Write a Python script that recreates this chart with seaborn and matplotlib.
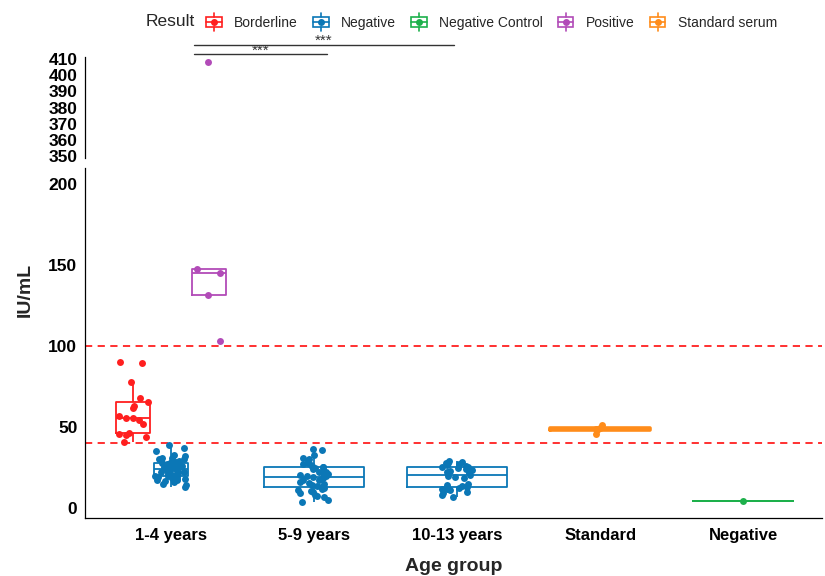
import numpy as np
import pandas as pd
import matplotlib
matplotlib.use("Agg")
import matplotlib.pyplot as plt
import seaborn as sns
from matplotlib.legend_handler import HandlerBase
from matplotlib.patches import Rectangle
from matplotlib.lines import Line2D

sns.set_theme(style="white")
plt.rcParams["font.family"] = ["Liberation Sans", "DejaVu Sans"]

# ---- data -------------------------------------------------------------
age_groups = ["1-4 years", "5-9 years", "10-13 years", "Standard", "Negative"]
result_levels = ["Borderline", "Negative", "Negative Control", "Positive", "Standard serum"]

borderline_1_4 = [90, 89.5, 78, 68, 65.6, 63, 62, 56.7, 55.7, 55.5, 54, 52,
                  46, 45.5, 45, 44, 41]
negative_1_4 = [39, 37, 35, 33, 32, 31, 31, 30, 30, 29, 29, 28.5, 28, 28, 27.5,
                27, 27, 26.5, 26, 26, 25.5, 25, 25, 24.5, 24, 24, 23.5, 23, 23,
                22.5, 22, 22, 21.5, 21, 21, 20.5, 20, 20, 19.5, 19, 19, 18.5, 18,
                18, 17.5, 17, 16.5, 16, 15, 14, 13]
positive_1_4 = [103, 131.5, 145, 147.5, 408]
negative_5_9 = [36.5, 36, 33, 31, 30, 29, 28, 27, 26.5, 26, 25.5, 25, 24.5, 24,
                23, 22.5, 22, 21.5, 21, 20.5, 20, 19.5, 19, 18.5, 18, 17.5, 17,
                16, 15.5, 15, 14, 13.5, 13, 12.5, 12, 11, 10.5, 10, 9, 8, 7.5,
                6.5, 5, 3.5]
negative_10_13 = [29, 28.5, 28, 27.5, 27, 26.5, 26, 25.5, 25, 24.5, 24, 23.5,
                  23, 22, 21.5, 20.5, 20, 19, 18.5, 15, 14, 13.5, 13, 12.5, 12,
                  11.5, 11, 10, 9, 8, 7]
standard_serum = [45.5, 48, 48.7, 49.3, 51.5]
negative_control = [4]

cutoff_positive = 100
cutoff_negative = 40

groups = [
    ("1-4 years", "Borderline", borderline_1_4),
    ("1-4 years", "Negative", negative_1_4),
    ("1-4 years", "Positive", positive_1_4),
    ("5-9 years", "Negative", negative_5_9),
    ("10-13 years", "Negative", negative_10_13),
    ("Standard", "Standard serum", standard_serum),
    ("Negative", "Negative Control", negative_control),
]

# ---- styling ----------------------------------------------------------
palette = {
    "Borderline": "#FF1F1F",
    "Negative": "#0B77B6",
    "Negative Control": "#1DB04B",
    "Positive": "#B24BB8",
    "Standard serum": "#FF8C1A",
}
# dodge offset and box width (in category units) for each group
layout = {
    ("1-4 years", "Borderline"): (-0.265, 0.24),
    ("1-4 years", "Negative"): (0.0, 0.24),
    ("1-4 years", "Positive"): (0.265, 0.24),
}
whis_for = {"Borderline": 1.0}
box_lw = {"Standard serum": 2.6}

rows = []
for age, res, vals in groups:
    off, w = layout.get((age, res), (0.0, 0.70))
    for v in vals:
        rows.append({"age": age, "result": res, "iu": v,
                     "xpos": age_groups.index(age) + off, "width": w})
df = pd.DataFrame(rows)

W, H = 825, 576
fig = plt.figure(figsize=(W / 100, H / 100), dpi=100)
ax = fig.add_axes([85 / W, (H - 518) / H, (822 - 85) / W, (518 - 168) / H])
ax_top = fig.add_axes([85 / W, (H - 158) / H, (822 - 85) / W, (158 - 57) / H], sharex=ax)

np.random.seed(7)
for a in (ax, ax_top):
    for (age, res), sub in df.groupby(["age", "result"], sort=False):
        c = palette[res]
        sns.boxplot(data=sub, x="xpos", y="iu", native_scale=True,
                    width=sub["width"].iloc[0], fill=False, color=c,
                    linewidth=box_lw.get(res, 1.3), showfliers=False,
                    whis=whis_for.get(res, 1.5), ax=a,
                    capprops={"visible": False})
        sns.stripplot(data=sub, x="xpos", y="iu", native_scale=True,
                      jitter=0.03 if res == "Standard serum" else 0.11,
                      color=c, size=5, linewidth=0, ax=a)

for y in (cutoff_positive, cutoff_negative):
    ax.axhline(y, color="#FF2020", lw=1.3, ls=(0, (4, 3)), zorder=0.5)

# axes limits / ticks
ax.set_xlim(-0.6, 4.55)
ax.set_ylim(-6.2, 209.9)
ax.set_yticks([0, 50, 100, 150, 200])
ax.set_xticks(range(len(age_groups)))
ax.set_xticklabels(age_groups)
ax_top.set_ylim(348.76, 411.24)
ax_top.set_yticks(list(range(350, 411, 10)))

for a in (ax, ax_top):
    for s in ("top", "right"):
        a.spines[s].set_visible(False)
    a.spines["left"].set_color("black")
    a.spines["left"].set_linewidth(0.9)
    a.tick_params(axis="both", direction="out", length=3.5, width=0.8,
                  color="#333333", labelsize=12.5, labelcolor="black", pad=2)
    for lab in a.get_yticklabels() + a.get_xticklabels():
        lab.set_fontweight("bold")
    a.set_xlabel("")
    a.set_ylabel("")
    a.grid(False)

ax.spines["bottom"].set_color("black")
ax.spines["bottom"].set_linewidth(0.9)
ax.tick_params(axis="x", labelsize=12, pad=3.5)
for lab in ax.get_xticklabels():
    lab.set_fontweight("bold")
ax_top.spines["bottom"].set_visible(False)
ax_top.tick_params(axis="x", bottom=False, labelbottom=False)

ax.set_xlabel("Age group", fontsize=14, fontweight="bold", labelpad=11)
fig.text(25 / W, 1 - 290 / H, "IU/mL", rotation=90, ha="center", va="center",
         fontsize=14, fontweight="bold")

# significance brackets
brackets = [((0.16, 1.09), 412.9), ((0.16, 1.98), 418.8)]
for (x0, x1), yb in brackets:
    ax_top.plot([x0, x1], [yb, yb], color="#333333", lw=1.0, clip_on=False)
    ax_top.annotate("***", xy=((x0 + x1) / 2, yb), xytext=(0, 0),
                    textcoords="offset points", ha="center", va="baseline",
                    fontsize=11, color="#333333", annotation_clip=False)


# legend with boxplot-shaped keys
class BoxKeyHandler(HandlerBase):
    def create_artists(self, legend, orig_handle, xdescent, ydescent,
                       width, height, fontsize, trans):
        c = orig_handle.get_color()
        x0, y0 = -xdescent, -ydescent
        bw = width * 0.85
        bx = x0 + (width - bw) / 2
        cx = x0 + width / 2
        box = Rectangle((bx, y0 + height * 0.22), bw, height * 0.56,
                        fill=False, edgecolor=c, lw=1.2, transform=trans)
        med = Line2D([bx, bx + bw], [y0 + height / 2] * 2, color=c, lw=1.2,
                     transform=trans)
        w1 = Line2D([cx, cx], [y0, y0 + height * 0.22], color=c, lw=1.2,
                    transform=trans)
        w2 = Line2D([cx, cx], [y0 + height * 0.78, y0 + height], color=c,
                    lw=1.2, transform=trans)
        pt = Line2D([cx], [y0 + height / 2], marker="o", ms=4, color=c,
                    ls="none", transform=trans)
        return [box, med, w1, w2, pt]


handles = [Line2D([], [], color=palette[r]) for r in result_levels]
fig.legend(handles, result_levels, loc="center left",
           bbox_to_anchor=(205 / W, 1 - 22 / H), ncol=5, frameon=False,
           handler_map={Line2D: BoxKeyHandler()}, fontsize=10,
           handlelength=1.3, handleheight=1.6, handletextpad=0.8,
           columnspacing=1.0, borderpad=0, borderaxespad=0)
fig.text(146 / W, 1 - 22 / H, "Result", ha="left", va="center", fontsize=12.5)

fig.savefig("out.png", dpi=100)
